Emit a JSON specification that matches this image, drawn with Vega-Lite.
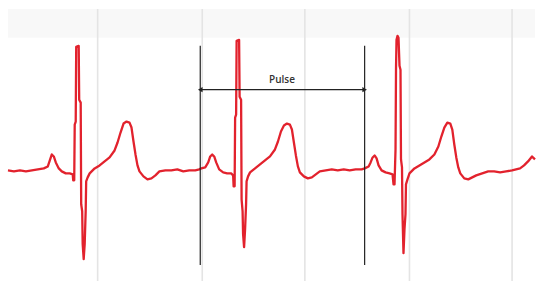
{
  "$schema": "https://vega.github.io/schema/vega-lite/v6.json",
  "width": 537,
  "height": 282,
  "autosize": {"type": "fit", "contains": "padding"},
  "padding": 0,
  "background": "white",
  "config": {"view": {"stroke": null}},
  "datasets": {
    "ecg": [
      {"t":8,"v":0},{"t":14,"v":-1},{"t":20,"v":0},{"t":26,"v":-1},{"t":32,"v":0},{"t":38,"v":1},{"t":44,"v":2},{"t":48,"v":4},{"t":50,"v":10},{"t":52,"v":16},{"t":54,"v":14},{"t":56,"v":8},{"t":59,"v":2},{"t":62,"v":-1},{"t":66,"v":-3},{"t":70,"v":-3},{"t":73,"v":-4},{"t":73.5,"v":-10},{"t":74.5,"v":-10},{"t":75,"v":46},{"t":76,"v":49},{"t":76.5,"v":124},{"t":79,"v":125},{"t":79.5,"v":71},{"t":81,"v":68},{"t":81.5,"v":-34},{"t":82.5,"v":-41},{"t":83,"v":-74},{"t":84,"v":-89},{"t":85,"v":-74},{"t":86,"v":-41},{"t":86.5,"v":-11},{"t":88,"v":-7},{"t":90,"v":-3},{"t":95,"v":2},{"t":100,"v":5},{"t":105,"v":9},{"t":110,"v":13},{"t":115,"v":20},{"t":118,"v":28},{"t":121,"v":38},{"t":124,"v":47},{"t":127,"v":49},{"t":130,"v":48},{"t":132,"v":43},{"t":134,"v":29},{"t":136,"v":16},{"t":138,"v":5},{"t":140,"v":-1},{"t":144,"v":-6},{"t":148,"v":-9},{"t":152,"v":-8},{"t":156,"v":-5},{"t":160,"v":-1},{"t":166,"v":0},{"t":172,"v":0},{"t":178,"v":1},{"t":184,"v":-1},{"t":190,"v":0},{"t":196,"v":0},{"t":200,"v":1},
      {"t":202,"v":2},{"t":206,"v":3},{"t":209,"v":8},{"t":211,"v":14},{"t":213,"v":16},{"t":215,"v":14},{"t":217,"v":8},{"t":220,"v":1},{"t":224,"v":-2},{"t":228,"v":-3},{"t":232,"v":-3},{"t":234,"v":-5},{"t":234.5,"v":-16},{"t":235.5,"v":-16},{"t":236,"v":53},{"t":237,"v":56},{"t":237.5,"v":130},{"t":240,"v":131},{"t":240.5,"v":74},{"t":242,"v":71},{"t":242.5,"v":-29},{"t":243.5,"v":-41},{"t":244,"v":-64},{"t":245,"v":-77},{"t":246,"v":-59},{"t":247,"v":-34},{"t":247.5,"v":-11},{"t":249,"v":-6},{"t":251,"v":-2},{"t":256,"v":2},{"t":261,"v":6},{"t":266,"v":10},{"t":271,"v":14},{"t":276,"v":21},{"t":279,"v":29},{"t":282,"v":39},{"t":285,"v":45},{"t":288,"v":47},{"t":291,"v":46},{"t":293,"v":41},{"t":295,"v":28},{"t":297,"v":15},{"t":299,"v":4},{"t":301,"v":-2},{"t":305,"v":-6},{"t":309,"v":-8},{"t":313,"v":-7},{"t":317,"v":-4},{"t":321,"v":-1},{"t":327,"v":0},{"t":333,"v":1},{"t":339,"v":0},{"t":345,"v":1},{"t":351,"v":0},{"t":357,"v":1},{"t":363,"v":1},{"t":366,"v":2},
      {"t":370,"v":4},{"t":372,"v":8},{"t":374,"v":13},{"t":376,"v":15},{"t":378,"v":12},{"t":380,"v":5},{"t":383,"v":0},{"t":387,"v":-2},{"t":391,"v":-3},{"t":394,"v":-4},{"t":395,"v":-14},{"t":396,"v":-14},{"t":397,"v":21},{"t":397.5,"v":103},{"t":398,"v":131},{"t":399,"v":135},{"t":400,"v":133},{"t":401,"v":105},{"t":402,"v":101},{"t":402.5,"v":11},{"t":403.5,"v":3},{"t":404,"v":-44},{"t":405,"v":-83},{"t":406,"v":-59},{"t":407,"v":-44},{"t":407.5,"v":-14},{"t":409,"v":-9},{"t":411,"v":-3},{"t":416,"v":2},{"t":421,"v":5},{"t":426,"v":8},{"t":431,"v":11},{"t":436,"v":16},{"t":440,"v":24},{"t":443,"v":34},{"t":446,"v":43},{"t":449,"v":48},{"t":452,"v":47},{"t":454,"v":41},{"t":456,"v":26},{"t":458,"v":13},{"t":460,"v":3},{"t":462,"v":-3},{"t":466,"v":-8},{"t":470,"v":-9},{"t":474,"v":-7},{"t":478,"v":-5},{"t":484,"v":-3},{"t":490,"v":-1},{"t":496,"v":-1},{"t":502,"v":-2},{"t":508,"v":-1},{"t":514,"v":0},{"t":518,"v":1},{"t":522,"v":2},{"t":526,"v":5},{"t":530,"v":9},{"t":534,"v":14},{"t":537,"v":11}
    ],
    "grid": [{"t":98},{"t":203},{"t":306},{"t":411},{"t":514}],
    "pulse": [{"start":201,"end":366,"label":"Pulse"}],
    "markers": [{"t":201,"dir":"triangle-left"},{"t":366,"dir":"triangle-right"}]
  },
  "layer": [
    {
      "data": {"values": [{"a": 8, "b": 537}]},
      "mark": {"type": "rect", "color": "#f8f8f8"},
      "encoding": {
        "x": {"field": "a", "type": "quantitative", "scale": {"domain": [0, 537], "nice": false, "zero": false}, "axis": null},
        "x2": {"field": "b"},
        "y": {"datum": 162, "type": "quantitative", "scale": {"domain": [-111, 171], "nice": false, "zero": false}, "axis": null},
        "y2": {"datum": 133}
      }
    },
    {
      "data": {"name": "grid"},
      "mark": {"type": "rule", "color": "#e4e4e4", "strokeWidth": 1.6},
      "encoding": {
        "x": {"field": "t", "type": "quantitative"},
        "y": {"datum": 162, "type": "quantitative"},
        "y2": {"datum": -111}
      }
    },
    {
      "data": {"name": "ecg"},
      "mark": {"type": "line", "color": "#e2222d", "strokeWidth": 2.3, "strokeJoin": "round"},
      "encoding": {
        "x": {"field": "t", "type": "quantitative"},
        "y": {"field": "v", "type": "quantitative"},
        "order": {"field": "t", "type": "quantitative"}
      }
    },
    {
      "data": {"name": "markers"},
      "mark": {"type": "rule", "color": "#222222", "strokeWidth": 1.2},
      "encoding": {
        "x": {"field": "t", "type": "quantitative"},
        "y": {"datum": 125, "type": "quantitative"},
        "y2": {"datum": -95}
      }
    },
    {
      "data": {"name": "pulse"},
      "mark": {"type": "rule", "color": "#222222", "strokeWidth": 1.2},
      "encoding": {
        "x": {"field": "start", "type": "quantitative"},
        "x2": {"field": "end"},
        "y": {"datum": 81, "type": "quantitative"}
      }
    },
    {
      "data": {"name": "markers"},
      "mark": {"type": "point", "filled": true, "color": "#222222", "size": 28, "opacity": 1},
      "encoding": {
        "x": {"field": "t", "type": "quantitative"},
        "y": {"datum": 81, "type": "quantitative"},
        "shape": {"field": "dir", "type": "nominal", "scale": {"domain": ["triangle-left", "triangle-right"], "range": ["triangle-left", "triangle-right"]}, "legend": null},
        "xOffset": {"field": "dir", "type": "nominal", "scale": {"domain": ["triangle-left", "triangle-right"], "range": [3, -3]}}
      }
    },
    {
      "data": {"name": "pulse"},
      "mark": {"type": "text", "font": "Open Sans", "fontSize": 10, "fontWeight": 600, "color": "#333333", "baseline": "middle", "align": "center"},
      "encoding": {
        "x": {"datum": 283, "type": "quantitative"},
        "y": {"datum": 91, "type": "quantitative"},
        "text": {"field": "label"}
      }
    }
  ]
}
